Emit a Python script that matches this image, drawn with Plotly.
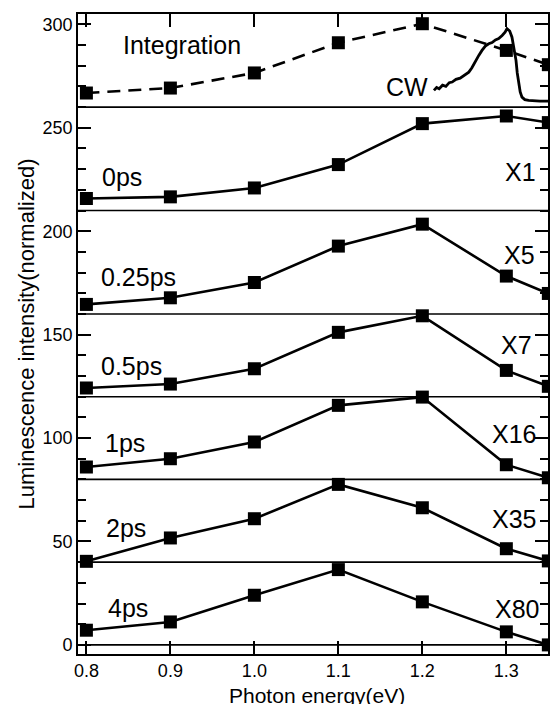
import plotly.graph_objects as go

# ---- data ----
energy = [0.8, 0.9, 1.0, 1.1, 1.2, 1.3, 1.35]
integration = [266.8, 269.2, 276.5, 291.1, 300.3, 287.4, 280.5]
ps0 = [215.8, 216.6, 220.9, 232.2, 252.0, 255.7, 252.5]
ps025 = [164.6, 167.8, 175.2, 192.8, 203.4, 178.3, 169.9]
ps05 = [124.2, 126.1, 133.5, 151.1, 159.1, 132.7, 125.0]
ps1 = [86.0, 90.0, 98.1, 115.8, 119.8, 87.1, 80.8]
ps2 = [40.4, 51.7, 61.0, 77.6, 66.3, 46.5, 40.6]
ps4 = [7.1, 11.1, 24.0, 36.4, 20.8, 6.3, 0.0]

cw_x = [1.2138, 1.2170, 1.2200, 1.2240, 1.2280, 1.2320, 1.2355, 1.2400, 1.2450,
        1.2500, 1.2553, 1.2590, 1.2630, 1.2672, 1.2710, 1.2750, 1.2790, 1.2830,
        1.2870, 1.2909, 1.2950, 1.2985, 1.3008, 1.3040, 1.3067, 1.3090, 1.3115,
        1.3130, 1.3146, 1.3165, 1.3186, 1.3220, 1.3265, 1.3320, 1.3400, 1.3500]
cw_y = [268.1, 269.5, 268.9, 270.6, 270.0, 271.8, 272.1, 273.4, 274.0,
        275.6, 276.9, 279.0, 282.3, 285.0, 287.4, 289.5, 290.6, 291.2,
        292.5, 293.1, 294.6, 296.2, 297.9, 296.8, 293.8, 288.9, 282.6,
        276.5, 271.3, 267.3, 264.8, 263.6, 263.2, 263.0, 262.9, 262.9]

panel_bounds = [0, 40, 80, 120, 160, 210, 260]

panel_labels = ["Integration", "0ps", "0.25ps", "0.5ps", "1ps", "2ps", "4ps"]
scale_labels = ["X1", "X5", "X7", "X16", "X35", "X80"]
y_ticks = [0, 50, 100, 150, 200, 250, 300]
x_ticks = [0.8, 0.9, 1.0, 1.1, 1.2, 1.3]
x_title = "Photon energy(eV)"
y_title = "Luminescence intensity(normalized)"

FONT = "Liberation Sans, Arial, Helvetica, sans-serif"

fig = go.Figure()

mk = dict(symbol="square", size=13, color="black")

fig.add_trace(go.Scatter(x=energy, y=integration, mode="lines+markers",
                         line=dict(color="black", width=2.6, dash="13px,8px"),
                         marker=mk, showlegend=False))
fig.add_trace(go.Scatter(x=cw_x, y=cw_y, mode="lines",
                         line=dict(color="black", width=2.8), showlegend=False))
for s in [ps0, ps025, ps05, ps1, ps2, ps4]:
    fig.add_trace(go.Scatter(x=energy, y=s, mode="lines+markers",
                             line=dict(color="black", width=2.6),
                             marker=mk, showlegend=False))

for b in panel_bounds:
    fig.add_shape(type="line", xref="paper", x0=0, x1=1, yref="y", y0=b, y1=b,
                  line=dict(color="black", width=1.6), layer="above")

# label positions (layout only)
left_pos = [(0.9144, 289.8), (0.8421, 226.2), (0.8617, 178.1), (0.8534, 135.0),
            (0.8462, 97.6), (0.8474, 56.5), (0.8498, 17.6)]
right_pos = [(1.3170, 228.6), (1.3152, 188.3), (1.3116, 144.8), (1.3087, 101.9),
             (1.3093, 60.8), (1.3122, 17.3)]

annots = []
for t, (x, y) in zip(panel_labels, left_pos):
    annots.append(dict(x=x, y=y, text=t, showarrow=False, xanchor="center",
                       yanchor="middle", font=dict(size=25, color="black", family=FONT)))
for t, (x, y) in zip(scale_labels, right_pos):
    annots.append(dict(x=x, y=y, text=t, showarrow=False, xanchor="center",
                       yanchor="middle", font=dict(size=25, color="black", family=FONT)))
annots.append(dict(x=1.1812, y=269.7, text="CW", showarrow=False, xanchor="center",
                   yanchor="middle", font=dict(size=25, color="black", family=FONT)))
# x-axis title placed below tick labels
annots.append(dict(x=0.508, y=-0.065, xref="paper", yref="paper", text=x_title,
                   showarrow=False, xanchor="center", yanchor="middle", borderpad=0,
                   font=dict(size=21, color="black", family=FONT)))

fig.update_layout(
    width=550, height=704,
    margin=dict(l=78, r=0, t=14, b=50),
    paper_bgcolor="white", plot_bgcolor="white",
    font=dict(family=FONT, color="black"),
    annotations=annots,
    xaxis=dict(range=[0.79, 1.3496], tickvals=x_ticks,
               ticktext=["0.8", "0.9", "1.0", "1.1", "1.2", "1.3"],
               ticks="inside", ticklen=13, tickwidth=1.5, tickcolor="black",
               showline=True, linecolor="black", linewidth=1.6, mirror="ticks",
               showgrid=False, zeroline=False,
               tickfont=dict(size=18, family=FONT)),
    yaxis=dict(range=[-4.4, 305], tickvals=y_ticks,
               ticks="inside", ticklen=13, tickwidth=1.5, tickcolor="black",
               minor=dict(dtick=10, tick0=0, ticks="inside", ticklen=8, tickwidth=1.5, tickcolor="black"),
               showline=True, linecolor="black", linewidth=1.6, mirror="ticks",
               showgrid=False, zeroline=False,
               tickfont=dict(size=18, family=FONT),
               title=dict(text=y_title, font=dict(size=22, family=FONT), standoff=2)),
)

fig.write_html("out.html", config={"displayModeBar": False},
               post_script="document.body.style.margin='0';document.body.style.overflow='hidden';")
